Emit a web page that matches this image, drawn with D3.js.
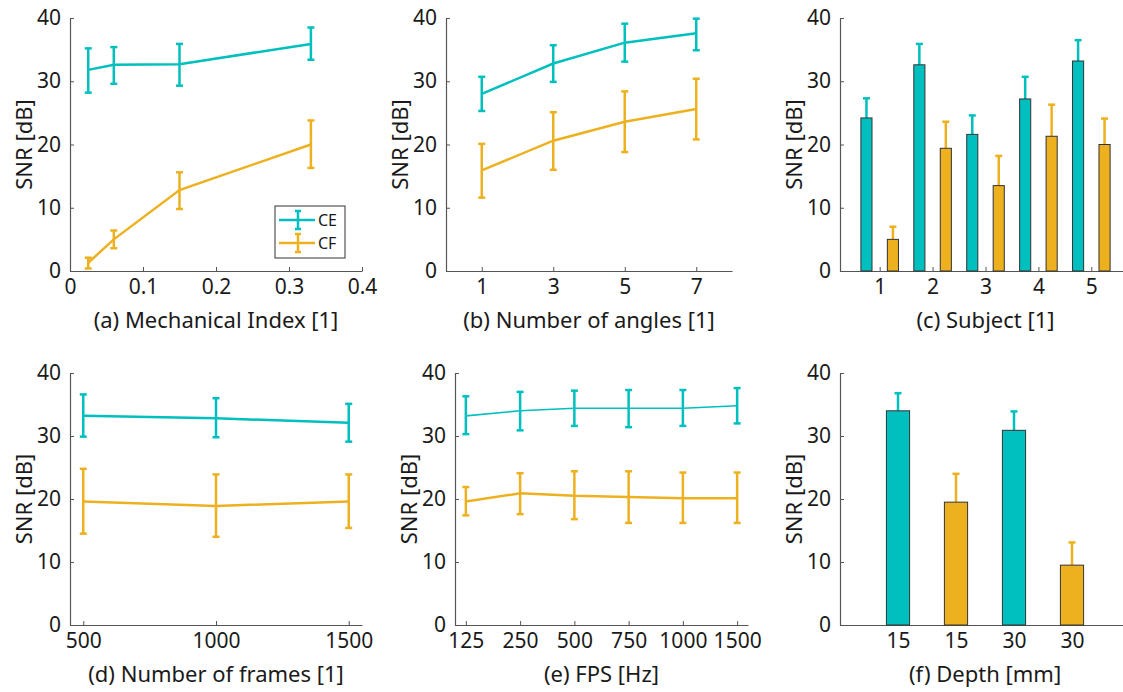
<!DOCTYPE html>
<html>
<head>
<meta charset="utf-8">
<script src="https://cdn.jsdelivr.net/npm/d3@7"></script>
<style>
    body { margin: 0; background: #fff; }
    svg { display: block; font-family: "Noto Sans", "DejaVu Sans", sans-serif; }
</style>
</head>
<body>
<svg id="chart" width="1123" height="692"></svg>
<script>
// ---- data ----
// (a) mechanical index
const miValues = [0.025, 0.06, 0.15, 0.33];
const miCE = [31.8, 32.6, 32.7, 35.9];
const miCELo = [28.2, 29.6, 29.3, 33.4];
const miCEHi = [35.2, 35.4, 35.9, 38.5];
const miCF = [1.3, 5.0, 12.8, 20.0];
const miCFLo = [0.4, 3.6, 9.8, 16.3];
const miCFHi = [2.1, 6.4, 15.6, 23.8];

// (b) number of angles
const angleValues = [1, 3, 5, 7];
const angleCE = [28.0, 32.8, 36.1, 37.6];
const angleCELo = [25.3, 29.9, 33.1, 34.9];
const angleCEHi = [30.7, 35.7, 39.1, 39.9];
const angleCF = [15.9, 20.6, 23.6, 25.6];
const angleCFLo = [11.6, 16.0, 18.8, 20.8];
const angleCFHi = [20.1, 25.1, 28.4, 30.4];

// (c) subject
const subjects = [1, 2, 3, 4, 5];
const subjCE = [24.2, 32.6, 21.6, 27.2, 33.2];
const subjCEHi = [27.3, 35.9, 24.6, 30.7, 36.5];
const subjCF = [5.0, 19.4, 13.5, 21.3, 20.0];
const subjCFHi = [7.0, 23.6, 18.2, 26.3, 24.1];

// (d) number of frames
const frameValues = [500, 1000, 1500];
const frameCE = [33.2, 32.8, 32.1];
const frameCELo = [29.9, 29.8, 29.1];
const frameCEHi = [36.6, 36.0, 35.1];
const frameCF = [19.6, 18.9, 19.6];
const frameCFLo = [14.5, 14.0, 15.4];
const frameCFHi = [24.8, 23.9, 23.9];

// (e) FPS (categorical)
const fpsLabels = ['125', '250', '500', '750', '1000', '1500'];
const fpsCE = [33.2, 34.0, 34.4, 34.4, 34.4, 34.8];
const fpsCELo = [30.3, 30.9, 31.6, 31.4, 31.6, 32.0];
const fpsCEHi = [36.3, 37.0, 37.2, 37.3, 37.3, 37.6];
const fpsCF = [19.6, 20.9, 20.5, 20.3, 20.1, 20.1];
const fpsCFLo = [17.4, 17.6, 16.8, 16.2, 16.2, 16.2];
const fpsCFHi = [21.9, 24.1, 24.4, 24.4, 24.2, 24.2];

// (f) depth
const depthLabels = ['15', '15', '30', '30'];
const depthSeries = ['CE', 'CF', 'CE', 'CF'];
const depthValues = [34.0, 19.5, 30.9, 9.5];
const depthHi = [36.8, 24.0, 33.9, 13.1];

const yTicks = [0, 10, 20, 30, 40];
const colors = {CE: '#00BFBF', CF: '#EDB120'};
const textColor = '#1a1a1a';

const svg = d3.select('#chart');

function zip(xs, ys, lo, hi) {
    return xs.map((x, i) => ({x: x, y: ys[i], lo: lo[i], hi: hi[i]}));
}

// axes + labels shared by every panel
function makePanel(box, xDomain, xTicks, xFormat, xLabel) {
    const g = svg.append('g').attr('transform', `translate(${box.left},${box.top})`);
    const w = box.right - box.left;
    const h = box.bottom - box.top;
    const x = d3.scaleLinear().domain(xDomain).range([0, w]);
    const y = d3.scaleLinear().domain([0, 40]).range([h, 0]);

    const xAxis = g.append('g')
        .attr('transform', `translate(0,${h})`)
        .call(d3.axisBottom(x).tickValues(xTicks).tickFormat(xFormat)
            .tickSizeInner(-4).tickSizeOuter(0).tickPadding(8));
    const yAxis = g.append('g')
        .call(d3.axisLeft(y).tickValues(yTicks).tickFormat(d3.format('d'))
            .tickSizeInner(-4).tickSizeOuter(0).tickPadding(9));
    [xAxis, yAxis].forEach(a => {
        a.select('.domain').attr('stroke', '#555').attr('stroke-width', 1.2);
        a.selectAll('.tick line').attr('stroke', '#555');
        a.selectAll('.tick text').attr('fill', textColor).style('font-size', '21px')
            .style('font-family', '"Noto Sans", sans-serif');
    });

    g.append('text')
        .attr('x', w / 2)
        .attr('y', h + 57)
        .attr('text-anchor', 'middle')
        .attr('fill', textColor)
        .style('font-size', '22px')
        .text(xLabel);

    g.append('text')
        .attr('transform', 'rotate(-90)')
        .attr('x', -h / 2)
        .attr('y', -38)
        .attr('text-anchor', 'middle')
        .attr('fill', textColor)
        .style('font-size', '22px')
        .text('SNR [dB]');

    return {g, x, y, w, h};
}

function drawErrorLine(p, pts, color, lineW) {
    const line = d3.line().x(d => p.x(d.x)).y(d => p.y(d.y));
    p.g.append('path')
        .datum(pts)
        .attr('fill', 'none')
        .attr('stroke', color)
        .attr('stroke-width', lineW)
        .attr('d', line);

    const eb = p.g.append('g').attr('stroke', color).attr('stroke-width', 2.5);
    eb.selectAll('.vbar').data(pts).enter().append('line')
        .attr('x1', d => p.x(d.x)).attr('x2', d => p.x(d.x))
        .attr('y1', d => p.y(d.lo)).attr('y2', d => p.y(d.hi));
    eb.selectAll('.capHi').data(pts).enter().append('line')
        .attr('x1', d => p.x(d.x) - 3.5).attr('x2', d => p.x(d.x) + 3.5)
        .attr('y1', d => p.y(d.hi)).attr('y2', d => p.y(d.hi));
    eb.selectAll('.capLo').data(pts).enter().append('line')
        .attr('x1', d => p.x(d.x) - 3.5).attr('x2', d => p.x(d.x) + 3.5)
        .attr('y1', d => p.y(d.lo)).attr('y2', d => p.y(d.lo));
}

function drawBars(p, bars, barW) {
    const bw = p.x(barW) - p.x(0);
    // upper error bars (drawn first so the bar edge sits on top)
    const eb = p.g.append('g').attr('stroke-width', 2.5);
    eb.selectAll('.ev').data(bars).enter().append('line')
        .attr('stroke', d => colors[d.s])
        .attr('x1', d => p.x(d.x)).attr('x2', d => p.x(d.x))
        .attr('y1', d => p.y(d.y)).attr('y2', d => p.y(d.hi));
    eb.selectAll('.ec').data(bars).enter().append('line')
        .attr('stroke', d => colors[d.s])
        .attr('x1', d => p.x(d.x) - 3.5).attr('x2', d => p.x(d.x) + 3.5)
        .attr('y1', d => p.y(d.hi)).attr('y2', d => p.y(d.hi));

    p.g.selectAll('.bar').data(bars).enter().append('rect')
        .attr('x', d => p.x(d.x) - bw / 2)
        .attr('y', d => p.y(d.y))
        .attr('width', bw)
        .attr('height', d => p.y(0) - p.y(d.y))
        .attr('fill', d => colors[d.s])
        .attr('stroke', '#333')
        .attr('stroke-width', 1);
}

const top1 = {top: 18, bottom: 271};
const top2 = {top: 373, bottom: 625};

// (a)
const pa = makePanel({left: 70, right: 362, ...top1}, [0, 0.4], [0, 0.1, 0.2, 0.3, 0.4],
    d => d === 0 ? '0' : d3.format('.1f')(d), '(a) Mechanical Index [1]');
drawErrorLine(pa, zip(miValues, miCE, miCELo, miCEHi), colors.CE, 2.5);
drawErrorLine(pa, zip(miValues, miCF, miCFLo, miCFHi), colors.CF, 2.5);

// legend
const lg = pa.g.append('g').attr('transform', `translate(${275 - 70},${206 - 18})`);
lg.append('rect').attr('width', 70).attr('height', 52)
    .attr('fill', '#fff').attr('stroke', '#333').attr('stroke-width', 1);
['CE', 'CF'].forEach((s, i) => {
    const cy = 14 + i * 23;
    lg.append('line').attr('x1', 4).attr('x2', 40).attr('y1', cy).attr('y2', cy)
        .attr('stroke', colors[s]).attr('stroke-width', 2.5);
    lg.append('line').attr('x1', 23).attr('x2', 23).attr('y1', cy - 9).attr('y2', cy + 9)
        .attr('stroke', colors[s]).attr('stroke-width', 2.5);
    [cy - 9, cy + 9].forEach(yy => lg.append('line')
        .attr('x1', 20).attr('x2', 26).attr('y1', yy).attr('y2', yy)
        .attr('stroke', colors[s]).attr('stroke-width', 2.5));
    lg.append('text').attr('x', 43).attr('y', cy + 6).attr('fill', textColor)
        .style('font-size', '16px').text(s);
});

// (b)
const pb = makePanel({left: 446, right: 732, ...top1}, [0, 8], angleValues,
    d3.format('d'), '(b) Number of angles [1]');
drawErrorLine(pb, zip(angleValues, angleCE, angleCELo, angleCEHi), colors.CE, 2.5);
drawErrorLine(pb, zip(angleValues, angleCF, angleCFLo, angleCFHi), colors.CF, 2.5);

// (c)
const pc = makePanel({left: 840, right: 1131, ...top1}, [0.25, 5.75], subjects,
    d3.format('d'), '(c) Subject [1]');
const subjBars = [];
subjects.forEach((s, i) => {
    subjBars.push({x: s - 0.25, y: subjCE[i], hi: subjCEHi[i], s: 'CE'});
    subjBars.push({x: s + 0.25, y: subjCF[i], hi: subjCFHi[i], s: 'CF'});
});
drawBars(pc, subjBars, 0.21);

// (d)
const pd = makePanel({left: 70, right: 362, ...top2}, [450, 1550], frameValues,
    d3.format('d'), '(d) Number of frames [1]');
drawErrorLine(pd, zip(frameValues, frameCE, frameCELo, frameCEHi), colors.CE, 2.5);
drawErrorLine(pd, zip(frameValues, frameCF, frameCFLo, frameCFHi), colors.CF, 2.5);

// (e)
const fpsIdx = fpsLabels.map((d, i) => i + 1);
const pe = makePanel({left: 455, right: 748, ...top2}, [0.8, 6.2], fpsIdx,
    d => fpsLabels[d - 1], '(e) FPS [Hz]');
drawErrorLine(pe, zip(fpsIdx, fpsCE, fpsCELo, fpsCEHi), colors.CE, 1.6);
drawErrorLine(pe, zip(fpsIdx, fpsCF, fpsCFLo, fpsCFHi), colors.CF, 2.5);

// (f)
const depthIdx = depthLabels.map((d, i) => i + 1);
const pf = makePanel({left: 840, right: 1130, ...top2}, [0, 5], depthIdx,
    d => depthLabels[d - 1], '(f) Depth [mm]');
drawBars(pf, depthIdx.map((x, i) => ({x: x, y: depthValues[i], hi: depthHi[i], s: depthSeries[i]})), 0.4);
</script>
</body>
</html>
